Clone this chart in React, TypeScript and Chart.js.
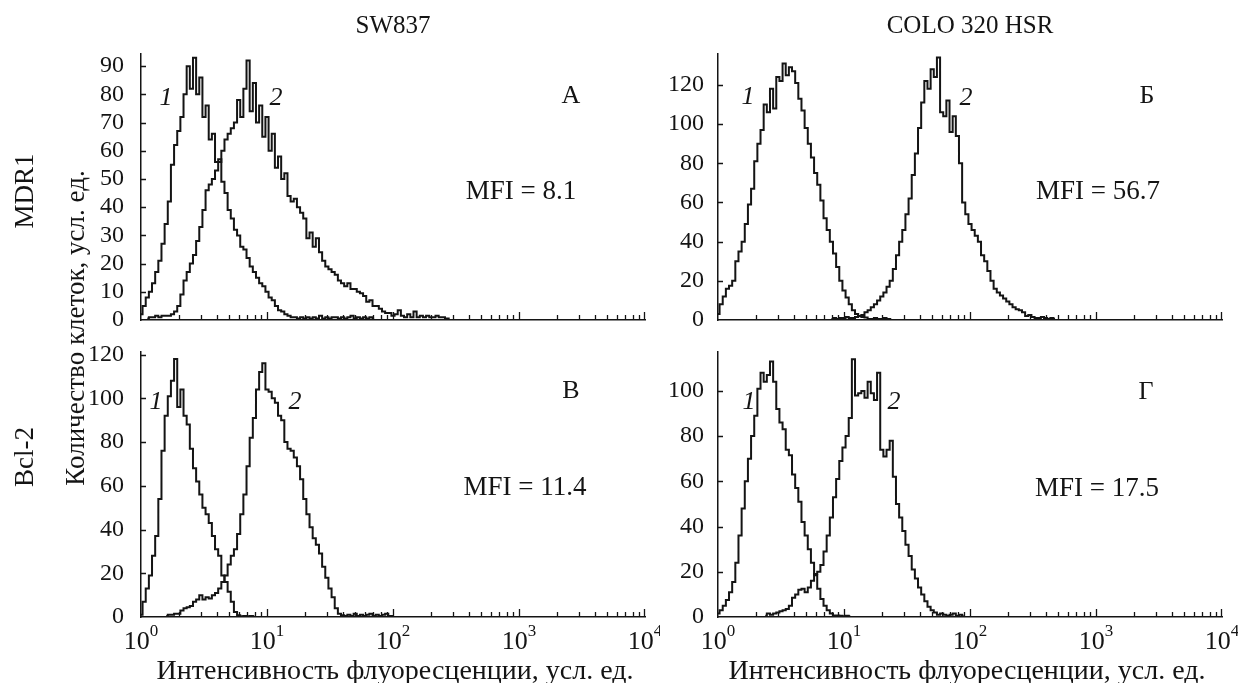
import React, { useEffect, useRef } from 'react';
import { Chart, registerables } from 'chart.js';

Chart.register(...registerables);

// ---------- data ----------
// channel grid: channel k sits at 10^(k * DECADES_PER_CHANNEL)
const DECADES_PER_CHANNEL = 0.025;
const X_TICK_EXPONENTS = [0, 1, 2, 3, 4];

// A: SW837, MDR1
const mdrSwControlStart = 0;
const mdrSwControl = [2, 5, 8, 10, 13, 17, 21, 27, 34, 42, 55, 62, 67, 72, 80, 90, 82, 93, 80, 86, 72, 76, 64, 66, 56, 57, 49, 45, 39, 36, 32, 30, 26, 25, 22, 19, 17, 15, 13, 12, 10, 8, 7, 5, 3.5, 3, 2, 1.5, 1, 1, 0.5, 1, 0.5, 1, 0.5, 1, 0.5, 1.5, 0.5, 1, 0.5, 1, 1, 0.5, 1, 0.5, 1, 1.5, 0.5, 1, 0.5, 1, 0.5, 1, 0.5];
const mdrSwStainedStart = 2;
const mdrSwStained = [0.5, 1, 1, 1.5, 1, 1.5, 1.5, 1.5, 2, 3, 5, 9, 14, 17, 20, 23, 28, 33, 39, 46, 48, 50, 53, 56, 60, 64, 66, 68, 70, 78, 72, 82, 92, 74, 84, 70, 76, 65, 72, 60, 66, 54, 58, 50, 52, 44, 42, 43, 40, 38, 36, 29, 31, 26, 29, 24, 21, 19, 18, 17, 16, 14, 13, 12, 13, 11, 11, 10, 9.5, 8.5, 6.5, 7, 5, 5, 4, 3, 2.5, 2.5, 1.5, 2, 3.5, 1.5, 1, 2, 1, 3, 1, 1.5, 1, 1.5, 1, 1, 1.5, 1, 1, 0.5, 0.5];

// Б: COLO 320 HSR, MDR1
const mdrColoControlStart = 0;
const mdrColoControl = [3, 8, 12, 16, 17.5, 20, 30, 35, 40, 49, 59, 67, 81, 90, 97, 110, 106, 118, 108, 124, 122, 131, 125, 129, 127, 121, 113, 107, 98, 90, 83, 75, 69, 61, 52, 46, 40, 34, 27, 20, 15, 11.5, 8, 5, 3, 2, 1.5, 1.3, 0.5, 0.5, 1, 0.5, 0.5, 1, 0.5, 0.5];
const mdrColoStainedStart = 36;
const mdrColoStained = [0.5, 1, 0.5, 1, 1, 1.5, 1, 1, 1.5, 2, 2.5, 4, 5, 6.5, 8, 10, 12, 14, 17, 20, 26, 33, 40, 46, 54, 62, 74, 85, 98, 111, 122, 118, 128, 124, 134, 106, 104, 112, 96, 104, 94, 80, 60, 54, 49, 46, 43, 40, 33, 30, 25, 20, 16, 14, 12.5, 11, 9.5, 8, 6.5, 5.5, 5, 4, 2, 2.5, 1.5, 1, 1, 1.5, 1, 0.5, 1, 0.5];

// В: SW837, Bcl-2
const bclSwControlStart = 0;
const bclSwControl = [1, 7, 13, 19, 28, 37, 54, 76, 92, 101, 108, 118, 96, 104, 92, 88, 77, 68, 62, 56, 50, 47, 43, 37, 31, 28, 19, 16, 11.5, 7, 2.3, 0.8, 0.3, 0.5, 0.3, 0.5, 0.3];
const bclSwStainedStart = 8;
const bclSwStained = [0.5, 1, 1, 1.5, 1.5, 3, 4, 4.5, 5, 7, 8, 10, 8, 9, 8.5, 10, 11, 13, 16, 19, 24, 28, 31, 38, 47, 56, 69, 82, 91, 104, 112, 116, 104, 103, 100, 98, 92, 90, 80, 77, 76, 73, 69, 63, 54, 47, 41, 36, 33, 29, 23, 18, 13, 9, 4, 1.5, 0.8, 0.5, 1, 0.5, 1.5, 0.5, 1, 0.5, 1, 1.5, 0.5, 1, 0.5, 1, 1.5, 0.5, 0.5];

// Г: COLO 320 HSR, Bcl-2
const bclColoControlStart = 0;
const bclColoControl = [1.5, 3, 5, 7.5, 11, 15.5, 24, 36, 48, 60, 70, 80, 89, 101, 108, 104, 107, 113, 104, 92, 86, 83, 74, 71.5, 63, 57, 51, 42, 36, 30, 24, 18.5, 12.5, 8, 5, 3, 1.5, 0.7, 0.7, 0.5, 0.3, 0.5, 0.3];
const bclColoStainedStart = 15;
const bclColoStained = [0.5, 1.5, 1, 1.5, 2, 2.5, 3, 3.5, 5, 8.5, 10, 12, 12.5, 11, 13, 16, 19, 20, 23, 29, 36, 44, 53, 61, 69, 75, 80, 88, 114, 98, 99, 100, 97, 104, 99, 96, 108, 74, 71, 74, 78, 62, 50, 44, 38, 32, 27, 21, 17, 13, 10, 7, 4.5, 3, 2, 1, 1.5, 1, 0.5, 1, 1.5, 0.5, 1, 0.5];

// axis ranges
const yMaxes = [94.3, 135.8, 121.2, 117.2];
const ySteps = [10, 20, 20, 20];

// texts
const columnTitles = ['SW837', 'COLO 320 HSR'];
const rowTitles = ['MDR1', 'Bcl-2'];
const panelLetters = ['А', 'Б', 'В', 'Г'];
const mfiTexts = ['MFI = 8.1', 'MFI = 56.7', 'MFI = 11.4', 'MFI = 17.5'];
const yTitle = 'Количество клеток, усл. ед.';
const xTitle = 'Интенсивность флуоресценции, усл. ед.';

// ---------- styling / layout ----------
const INK = '#141414';
const FONT = "'Liberation Serif', 'Times New Roman', serif";
const TICK_FS = 24;

type Series = { start: number; values: number[] };

const toPoints = (s: Series) =>
  s.values.map((v, k) => ({ x: Math.pow(10, (s.start + k) * DECADES_PER_CHANNEL), y: v }));

type PanelCfg = {
  left: number; top: number; w: number; h: number;
  padTop: number; padRight: number; yAxisW: number; xAxisH: number;
  labelPad: number; yMax: number; yStep: number; showXLabels: boolean;
  series: Series[];
};

const panels: PanelCfg[] = [
  { left: 0, top: 20, w: 660, h: 330, padTop: 34, padRight: 15, yAxisW: 141, xAxisH: 30, labelPad: 9, yMax: yMaxes[0], yStep: ySteps[0], showXLabels: false,
    series: [{ start: mdrSwControlStart, values: mdrSwControl }, { start: mdrSwStainedStart, values: mdrSwStained }] },
  { left: 660, top: 20, w: 578, h: 330, padTop: 34, padRight: 16, yAxisW: 58, xAxisH: 30, labelPad: 6, yMax: yMaxes[1], yStep: ySteps[1], showXLabels: false,
    series: [{ start: mdrColoControlStart, values: mdrColoControl }, { start: mdrColoStainedStart, values: mdrColoStained }] },
  { left: 0, top: 318, w: 660, h: 365, padTop: 34, padRight: 15, yAxisW: 141, xAxisH: 66, labelPad: 9, yMax: yMaxes[2], yStep: ySteps[2], showXLabels: true,
    series: [{ start: bclSwControlStart, values: bclSwControl }, { start: bclSwStainedStart, values: bclSwStained }] },
  { left: 660, top: 318, w: 578, h: 365, padTop: 34, padRight: 16, yAxisW: 58, xAxisH: 66, labelPad: 6, yMax: yMaxes[3], yStep: ySteps[3], showXLabels: true,
    series: [{ start: bclColoControlStart, values: bclColoControl }, { start: bclColoStainedStart, values: bclColoStained }] },
];

const decorPlugin = (cfg: PanelCfg) => ({
  id: 'decor',
  afterDraw(chart: any) {
    const ctx: CanvasRenderingContext2D = chart.ctx;
    const xs = chart.scales.x;
    const ys = chart.scales.y;
    const { bottom, left } = chart.chartArea;
    ctx.save();
    ctx.strokeStyle = INK;
    ctx.lineWidth = 1.3;
    ctx.beginPath();
    for (let d = 0; d < 4; d++) {
      for (let m = 1; m <= 9; m++) {
        if (d === 0 && m === 1) continue;
        const px = Math.round(xs.getPixelForValue(m * Math.pow(10, d))) + 0.5;
        const len = m === 1 ? 8 : 5;
        ctx.moveTo(px, bottom);
        ctx.lineTo(px, bottom - len);
      }
    }
    const pEnd = Math.round(xs.getPixelForValue(10000)) - 0.5;
    ctx.moveTo(pEnd, bottom);
    ctx.lineTo(pEnd, bottom - 8);
    ys.ticks.forEach((t: any) => {
      if (t.value === 0) return;
      const py = Math.round(ys.getPixelForValue(t.value)) + 0.5;
      ctx.moveTo(left, py);
      ctx.lineTo(left + 5, py);
    });
    ctx.stroke();
    if (cfg.showXLabels) {
      ctx.fillStyle = INK;
      ctx.textBaseline = 'alphabetic';
      ctx.textAlign = 'left';
      X_TICK_EXPONENTS.forEach((e) => {
        const px = xs.getPixelForValue(Math.pow(10, e));
        ctx.font = `26px ${FONT}`;
        const w1 = ctx.measureText('10').width;
        ctx.font = `17px ${FONT}`;
        const w2 = ctx.measureText(String(e)).width;
        const x0 = px - (w1 + w2) / 2;
        const base = bottom + 32;
        ctx.font = `26px ${FONT}`;
        ctx.fillText('10', x0, base);
        ctx.font = `17px ${FONT}`;
        ctx.fillText(String(e), x0 + w1, base - 13);
      });
    }
    ctx.restore();
  },
});

function Panel({ cfg }: { cfg: PanelCfg }) {
  const ref = useRef<HTMLCanvasElement>(null);
  useEffect(() => {
    const chart = new Chart(ref.current as HTMLCanvasElement, {
      type: 'line',
      data: {
        datasets: cfg.series.map((s) => ({
          data: toPoints(s),
          borderColor: INK,
          borderWidth: 2,
          pointRadius: 0,
          stepped: 'middle' as const,
          fill: false,
          tension: 0,
        })),
      },
      options: {
        animation: false,
        responsive: false,
        maintainAspectRatio: false,
        events: [],
        layout: { padding: { left: 0, top: cfg.padTop, right: cfg.padRight, bottom: 0 } },
        plugins: { legend: { display: false }, tooltip: { enabled: false }, title: { display: false } },
        scales: {
          x: {
            type: 'logarithmic',
            min: 1,
            max: 10000,
            grid: { display: false },
            border: { display: true, color: INK, width: 1.5 },
            ticks: { display: false },
            afterFit: (s: any) => { s.height = cfg.xAxisH; },
          },
          y: {
            type: 'linear',
            min: 0,
            max: cfg.yMax,
            grid: { display: false },
            border: { display: true, color: INK, width: 1.5 },
            ticks: {
              stepSize: cfg.yStep,
              includeBounds: false,
              autoSkip: false,
              color: INK,
              padding: cfg.labelPad,
              font: { family: FONT, size: TICK_FS },
            },
            afterFit: (s: any) => { s.width = cfg.yAxisW; },
          },
        },
      } as any,
      plugins: [decorPlugin(cfg)],
    });
    return () => chart.destroy();
  }, [cfg]);
  return (
    <canvas
      ref={ref}
      width={cfg.w}
      height={cfg.h}
      style={{ position: 'absolute', left: cfg.left, top: cfg.top, width: cfg.w, height: cfg.h }}
    />
  );
}

function Label({ x, y, text, size, italic = false, rotate = false }: { x: number; y: number; text: string; size: number; italic?: boolean; rotate?: boolean }) {
  return (
    <div
      style={{
        position: 'absolute', left: x, top: y,
        transform: `translate(-50%, -50%)${rotate ? ' rotate(-90deg)' : ''}`,
        fontFamily: FONT, fontSize: size, fontStyle: italic ? 'italic' : 'normal',
        lineHeight: 1, whiteSpace: 'nowrap', color: INK,
      }}
    >
      {text}
    </div>
  );
}

export default function App() {
  const letterPos = [[571, 95], [1147, 95], [571, 390], [1146, 391]];
  const mfiPos = [[521, 190], [1098, 190], [525, 486], [1097, 487]];
  const curveNumPos = [
    [[166, 97], [276, 97]],
    [[748, 96], [966, 97]],
    [[156, 401], [295, 401]],
    [[749, 401], [894, 401]],
  ];
  return (
    <div style={{ position: 'absolute', left: 0, top: 0, width: 1238, height: 683, background: '#fff', overflow: 'hidden' }}>
      {panels.map((p, i) => <Panel key={i} cfg={p} />)}
      <Label x={393} y={24} text={columnTitles[0]} size={25} />
      <Label x={970} y={24} text={columnTitles[1]} size={25} />
      <Label x={24} y={191} text={rowTitles[0]} size={27} rotate />
      <Label x={24} y={457} text={rowTitles[1]} size={27} rotate />
      <Label x={75} y={328} text={yTitle} size={27} rotate />
      <Label x={395} y={670} text={xTitle} size={28} />
      <Label x={967} y={670} text={xTitle} size={28} />
      {panelLetters.map((t, i) => <Label key={'l' + i} x={letterPos[i][0]} y={letterPos[i][1]} text={t} size={26} />)}
      {mfiTexts.map((t, i) => <Label key={'m' + i} x={mfiPos[i][0]} y={mfiPos[i][1]} text={t} size={27} />)}
      {curveNumPos.map((pair, i) =>
        pair.map((pos, j) => <Label key={'c' + i + j} x={pos[0]} y={pos[1]} text={String(j + 1)} size={26} italic />)
      )}
    </div>
  );
}
